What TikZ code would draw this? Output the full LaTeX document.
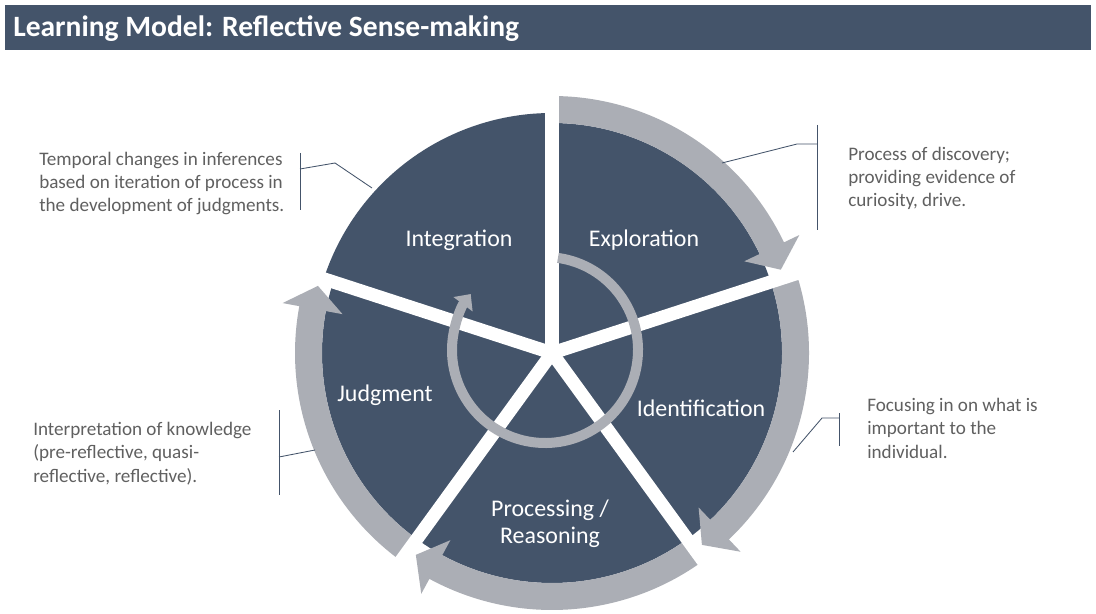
\documentclass[tikz,border=0pt]{standalone}
\usepackage{fontspec}
\setmainfont{Carlito}
\usetikzlibrary{arrows.meta}

\definecolor{slate}{RGB}{68,84,106}
\definecolor{bandgray}{RGB}{171,174,181}
\definecolor{notegray}{RGB}{96,96,96}

% curved band with a wide head: #1 start angle, #2 head base, #3 tip
\newcommand{\cyclearrow}[3]{%
  \fill[bandgray] (#1:230) arc[start angle=#1, end angle=#2, radius=230]
    -- (#2:213) -- (#3:243.5) -- (#2:274) -- (#2:257)
    arc[start angle=#2, end angle=#1, radius=257] -- cycle;}

\begin{document}
\begin{tikzpicture}[
  x=0.025cm, y=0.025cm,
  sector/.style={fill=slate},
  spoke/.style={draw=white, line width=0.33cm},
  innerring/.style={draw=bandgray, line width=0.25cm,
    -{Triangle[width=0.58cm, length=0.32cm]}},
  stage/.style={text=white, font=\fontsize{17}{19.5}\selectfont, align=center},
  note/.style={text=notegray, font=\fontsize{13.6}{16.5}\selectfont,
    align=left, anchor=base west, inner sep=0pt},
  leader/.style={draw=slate, line width=0.6pt},
  titletext/.style={text=white, font=\fontsize{21}{25}\selectfont\bfseries,
    anchor=base west, inner sep=0pt}
]
  \useasboundingbox (0,0) rectangle (1096,613);
  \fill[white] (0,0) rectangle (1096,613);

  % title bar
  \fill[slate] (5,563) rectangle (1091,608);
  \node[titletext] (title) at (13,576) {Learning Model: Reflective Sense-making};

  \coordinate (hub) at (552,260);
  \coordinate (ringc) at (545,263);

  % five sectors
  \fill[sector] (hub) -- ++(18:230) arc[start angle=18, end angle=90, radius=230] -- cycle;
  \fill[sector] (hub) -- ++(-54:230) arc[start angle=-54, end angle=18, radius=230] -- cycle;
  \fill[sector] (hub) -- ++(-126:230) arc[start angle=-126, end angle=-54, radius=230] -- cycle;
  \fill[sector] (hub) -- ++(162:230) arc[start angle=162, end angle=234, radius=230] -- cycle;
  \fill[sector] (hub) -- ++(90:240) arc[start angle=90, end angle=162, radius=240] -- cycle;

  % outer cycle arrows
  \begin{scope}[shift={(hub)}]
    \cyclearrow{90}{25.5}{20}
    \cyclearrow{18}{-46.5}{-52}
    \cyclearrow{-54}{-118.5}{-124}
    \cyclearrow{234}{169.5}{164}
  \end{scope}

  % white gaps between sectors
  \draw[spoke] (hub) -- ++(90:275);
  \draw[spoke] (hub) -- ++(18:275);
  \draw[spoke] (hub) -- ++(-54:275);
  \draw[spoke] (hub) -- ++(-126:275);
  \draw[spoke] (hub) -- ++(162:275);

  % inner loop
  \draw[innerring] (ringc) ++(82:93) arc[start angle=82, end angle=-217, radius=93];

  % stage labels
  \node[stage] (integ) at (459,373) {Integration};
  \node[stage] (explo) at (644,373) {Exploration};
  \node[stage] (ident) at (701,205) {Identification};
  \node[stage] (judge) at (385,218) {Judgment};
  \node[stage] (proc) at (550,89) {Processing /\\Reasoning};

  % notes with their brackets (anchored on the last line)
  \node[note] (tempnote) at (39,401)
    {Temporal changes in inferences\\based on iteration of process in\\the development of judgments.};
  \coordinate (tempbartop) at (300,460);
  \coordinate (tempbarbot) at (300,403);
  \coordinate (tempjoin) at (300,444);
  \coordinate (tempknee) at (335,450);
  \coordinate (tempend) at (372,425);
  \draw[leader] (tempbartop) -- (tempbarbot);
  \draw[leader] (tempjoin) -- (tempknee) -- (tempend);

  \node[note] (discnote) at (848,406)
    {Process of discovery;\\providing evidence of\\curiosity, drive.};
  \coordinate (discbartop) at (817,488);
  \coordinate (discbarbot) at (817,383);
  \coordinate (discjoin) at (817,469);
  \coordinate (discknee) at (797,469);
  \coordinate (discend) at (722,450);
  \draw[leader] (discbartop) -- (discbarbot);
  \draw[leader] (discjoin) -- (discknee) -- (discend);

  \node[note] (interpnote) at (33,131)
    {Interpretation of knowledge\\(pre-reflective, quasi-\\reflective, reflective).};
  \coordinate (interpbartop) at (279,203);
  \coordinate (interpbarbot) at (279,118);
  \coordinate (interpjoin) at (279,156);
  \coordinate (interpend) at (315,163);
  \draw[leader] (interpbartop) -- (interpbarbot);
  \draw[leader] (interpjoin) -- (interpend);

  \node[note] (focusnote) at (867,155)
    {Focusing in on what is\\important to the\\individual.};
  \coordinate (focusbartop) at (839,200);
  \coordinate (focusbarbot) at (839,167);
  \coordinate (focusjoin) at (839,195);
  \coordinate (focusknee) at (822,195);
  \coordinate (focusend) at (793,161);
  \draw[leader] (focusbartop) -- (focusbarbot);
  \draw[leader] (focusjoin) -- (focusknee) -- (focusend);
\end{tikzpicture}
\end{document}
